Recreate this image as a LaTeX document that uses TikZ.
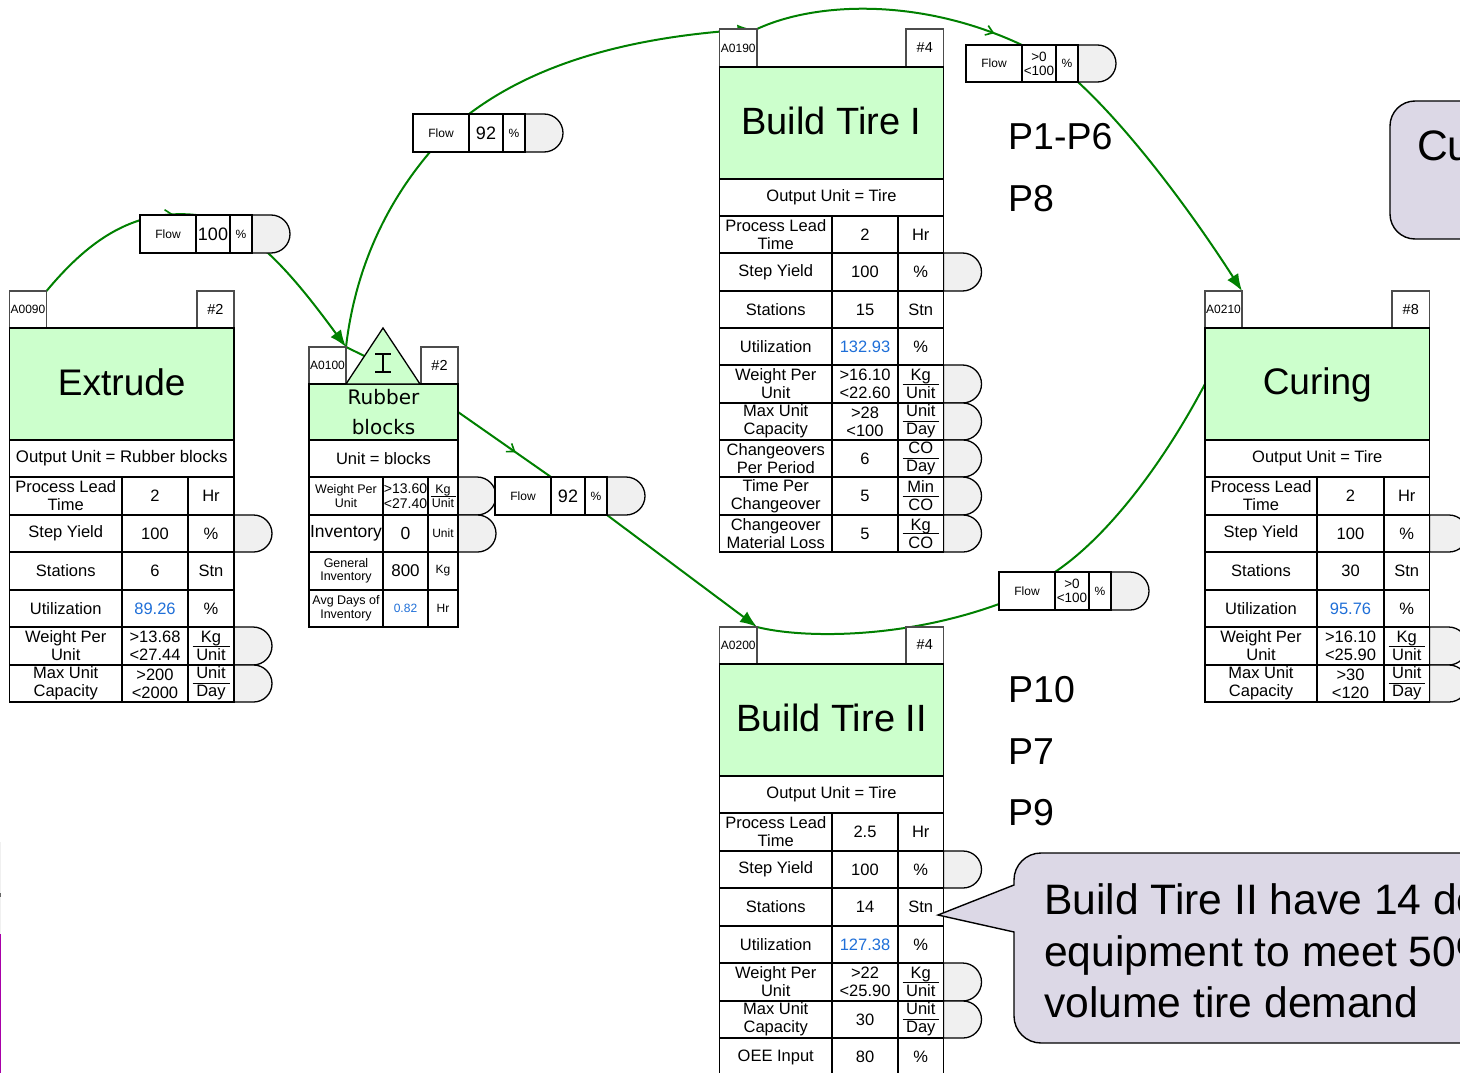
\documentclass[tikz,border=0pt]{standalone}
\usepackage{fontspec}
\setmainfont{Liberation Sans}
\newfontfamily\rubberfont{DejaVu Sans}
\usetikzlibrary{arrows.meta,decorations.markings,calc}
\definecolor{titlegreen}{RGB}{204,255,204}
\definecolor{pillgrey}{RGB}{240,240,240}
\definecolor{calloutfill}{RGB}{220,216,230}
\definecolor{linkgreen}{RGB}{0,128,0}
\definecolor{valblue}{RGB}{31,111,216}
\definecolor{edgemagenta}{RGB}{168,0,168}
\pgfdeclarelayer{bg}
\pgfsetlayers{bg,main}
\newcommand\fsz[2]{\fontsize{#1}{#2}\selectfont}
\tikzset{
  cell/.style={draw=black,line width=1.3pt,fill=white,inner sep=0pt,outer sep=0pt,align=center,text=black,font=\fsz{16.5}{18}},
  titlecell/.style={cell,fill=titlegreen},
  tabcell/.style={cell,draw=black!70,line width=1.1pt},
  pillshape/.style={draw=black,line width=1.3pt,fill=pillgrey},
  link/.style={draw=linkgreen,line width=2pt},
  linkhead/.style={link,-{Latex[length=17pt,width=13pt]}},
  midtip/.style={postaction={decorate,decoration={markings,mark=at position #1 with {\arrow[linkgreen,line width=1.6pt]{Straight Barb[length=7pt,width=10pt]}}}}},
  bigmidtip/.style={postaction={decorate,decoration={markings,mark=at position #1 with {\arrow[linkgreen]{Latex[length=15pt,width=11pt]}}}}},
  callout/.style={draw=black,line width=1.4pt,fill=calloutfill},
  bigtext/.style={anchor=base west,inner sep=0pt,font=\fsz{37.5}{37.5}},
  notetext/.style={anchor=base west,inner sep=0pt,font=\fsz{42.6}{42.6}},
}
\newcommand\titlestrut{\rule[-6pt]{0pt}{34pt}}
% box: [style]{name}{x0}{y0}{x1}{y1}{text}
\newcommand\bx[6][cell]{%
  \pgfmathsetmacro\bxw{#5-#3}\pgfmathsetmacro\bxh{#6-#4}%
  \pgfmathsetmacro\bxcx{(#3+#5)/2}\pgfmathsetmacro\bxcy{(#4+#6)/2}%
  \bxtext{#1}{#2}}
\newcommand\bxtext[3]{\node[#1,minimum width=\bxw pt,minimum height=\bxh pt] (#2) at (\bxcx,\bxcy) {#3};}
\newcommand\setcols[4]{\def\ca{#1}\def\cb{#2}\def\cc{#3}\def\cd{#4}}
\def\frinset{4.5pt}
% table row: {id}{y0}{y1}{label}{value}{unit}
\newcommand\trow[6]{%
  \bx{#1-l}{\ca}{#2}{\cb}{#3}{#4}%
  \bx{#1-v}{\cb}{#2}{\cc}{#3}{#5}%
  \bx{#1-u}{\cc}{#2}{\cd}{#3}{#6}}
% fraction rule under the numerator of a unit cell
\newcommand\frule[1]{\draw[line width=1pt] ([xshift=\frinset]#1-u.west) -- ([xshift=-\frinset]#1-u.east);}
% pill: {name}{x}{y0}{y1}
\newcommand\pill[4]{%
  \pgfmathsetmacro\pr{(#4-#3)/2}\pgfmathsetmacro\ps{38-\pr}\pgfmathsetmacro\pm{(#3+#4)/2}%
  \path[pillshape] (#2,#3) -- ++(\ps,0) arc[start angle=90,end angle=-90,radius=\pr pt] -- (#2,#4) -- cycle;
  \coordinate (#1) at (#2,\pm);}
% flow box: {id}{x}{y0}{y1}{value font}{value}
\newcommand\flowbox[6]{%
  \pgfmathsetmacro\fa{#2+56}\pgfmathsetmacro\fb{#2+90}\pgfmathsetmacro\fc{#2+112}%
  \pill{#1-pill}{\fc}{#3}{#4}%
  \bx[cell,font=\fsz{12}{14}]{#1-flow}{#2}{#3}{\fa}{#4}{Flow}%
  \bx[cell,font=#5]{#1-val}{\fa}{#3}{\fb}{#4}{#6}%
  \bx[cell,font=\fsz{12}{14}]{#1-pct}{\fb}{#3}{\fc}{#4}{\%}}
\newcommand\tabs[7]{% id y0 y1 ax1 nx0 code no
  \bx[tabcell,font=\fsz{12}{14}]{#1-code}{\ca}{#2}{#4}{#3}{\raisebox{-1pt}{#6}}%
  \bx[tabcell,font=\fsz{14.5}{16}]{#1-no}{#5}{#2}{\cd}{#3}{\raisebox{1pt}{#7}}}
\newcommand\blue[1]{\textcolor{valblue}{#1}}
\begin{document}
\begin{tikzpicture}[x=1pt,y=-1pt]
\useasboundingbox (0,0) rectangle (1460,1073);
\clip (0,0) rectangle (1460,1073);
% page-edge marks
\fill[pillgrey] (0,842) rectangle (1,934);
\fill[black!60] (0,893) rectangle (1,897);
\fill[edgemagenta] (0,934) rectangle (1.2,1073);

% ---------- Extrude
\setcols{9.5}{122}{188}{234}
\tabs{ext}{291}{328}{46.5}{197}{A0090}{\#2}
\bx[titlecell,font=\fsz{37}{37}]{ext-title}{9.5}{328}{234}{440}{Extrude\titlestrut}
\bx[cell,font=\fsz{16.8}{18}]{ext-out}{9.5}{440}{234}{477}{Output Unit = Rubber blocks}
\pill{ext-p2}{234}{515}{552}\pill{ext-p5}{234}{627}{665}\pill{ext-p6}{234}{665}{702}
\trow{ext-r1}{477}{515}{Process Lead\\Time}{2}{Hr}
\trow{ext-r2}{515}{552}{Step Yield}{100}{\%}
\trow{ext-r3}{552}{590}{Stations}{6}{Stn}
\trow{ext-r4}{590}{627}{Utilization}{\blue{89.26}}{\%}
\trow{ext-r5}{627}{665}{Weight Per\\Unit}{>13.68\\<27.44}{Kg\\Unit}\frule{ext-r5}
\trow{ext-r6}{665}{702}{Max Unit\\Capacity}{>200\\<2000}{Unit\\Day}\frule{ext-r6}

% ---------- Rubber blocks
\setcols{309}{383}{428}{458}
\tabs{rub}{347}{384}{346}{421}{A0100}{\#2}
\bx[titlecell,font=\rubberfont\fsz{20}{29.5}]{rub-title}{309}{384}{458}{440}{Rubber\\blocks}
\bx[cell,font=\fsz{16.5}{18}]{rub-out}{309}{440}{458}{477}{Unit = blocks}
\pill{rub-p1}{458}{477}{515}\pill{rub-p2}{458}{515}{552}
\def\frinset{2.5pt}
\bx[cell,font=\fsz{12.5}{14}]{rub-r1-l}{309}{477}{383}{515}{Weight Per\\Unit}
\bx[cell,font=\fsz{14}{14.5}]{rub-r1-v}{383}{477}{428}{515}{>13.60\\<27.40}
\bx[cell,font=\fsz{12.5}{14}]{rub-r1-u}{428}{477}{458}{515}{Kg\\Unit}
\frule{rub-r1}
\bx[cell,font=\fsz{17.5}{20}]{rub-r2-l}{309}{515}{383}{552}{Inventory}
\bx[cell,font=\fsz{17.5}{20}]{rub-r2-v}{383}{515}{428}{552}{0}
\bx[cell,font=\fsz{12}{14}]{rub-r2-u}{428}{515}{458}{552}{Unit}
\bx[cell,font=\fsz{12.5}{13.5}]{rub-r3-l}{309}{552}{383}{590}{General\\Inventory}
\bx[cell,font=\fsz{17}{20}]{rub-r3-v}{383}{552}{428}{590}{800}
\bx[cell,font=\fsz{12}{14}]{rub-r3-u}{428}{552}{458}{590}{Kg}
\bx[cell,font=\fsz{12.5}{14}]{rub-r4-l}{309}{590}{383}{627}{Avg Days of\\Inventory}
\bx[cell,font=\fsz{12}{14}]{rub-r4-v}{383}{590}{428}{627}{\blue{0.82}}
\bx[cell,font=\fsz{12}{14}]{rub-r4-u}{428}{590}{458}{627}{Hr}
\def\frinset{4.5pt}
\path[draw=black,line width=1.3pt,fill=titlegreen] (346,384) -- (383,328) -- (420,384) -- cycle;
\coordinate (rub-tri) at (383,365);
\draw[line width=1.1pt] (375,354) -- (391,354) (383,354) -- (383,372) (375,372) -- (391,372);

% ---------- Build Tire I
\setcols{719.5}{832}{898}{943.5}
\tabs{bt1}{29}{67}{757}{906}{A0190}{\#4}
\bx[titlecell,font=\fsz{38}{38}]{bt1-title}{719.5}{67}{943.5}{179}{Build Tire I\titlestrut}
\bx{bt1-out}{719.5}{179}{943.5}{216}{Output Unit = Tire}
\pill{bt1-p2}{943.5}{253}{291}\pill{bt1-p5}{943.5}{365}{403}\pill{bt1-p6}{943.5}{403}{440}
\pill{bt1-p7}{943.5}{440}{477}\pill{bt1-p8}{943.5}{477}{515}\pill{bt1-p9}{943.5}{515}{552}
\trow{bt1-r1}{216}{253}{Process Lead\\Time}{2}{Hr}
\trow{bt1-r2}{253}{291}{Step Yield}{100}{\%}
\trow{bt1-r3}{291}{328}{Stations}{15}{Stn}
\trow{bt1-r4}{328}{365}{Utilization}{\blue{132.93}}{\%}
\trow{bt1-r5}{365}{403}{Weight Per\\Unit}{>16.10\\<22.60}{Kg\\Unit}\frule{bt1-r5}
\trow{bt1-r6}{403}{440}{Max Unit\\Capacity}{>28\\<100}{Unit\\Day}\frule{bt1-r6}
\trow{bt1-r7}{440}{477}{Changeovers\\Per Period}{6}{CO\\Day}\frule{bt1-r7}
\trow{bt1-r8}{477}{515}{Time Per\\Changeover}{5}{Min\\CO}\frule{bt1-r8}
\trow{bt1-r9}{515}{552}{Changeover\\Material Loss}{5}{Kg\\CO}\frule{bt1-r9}

% ---------- Build Tire II
\tabs{bt2}{627}{664}{757}{906}{A0200}{\#4}
\bx[titlecell,font=\fsz{38}{38}]{bt2-title}{719.5}{664}{943.5}{776}{Build Tire II\titlestrut}
\bx{bt2-out}{719.5}{776}{943.5}{813}{Output Unit = Tire}
\pill{bt2-p2}{943.5}{851}{888}\pill{bt2-p5}{943.5}{963}{1001}\pill{bt2-p6}{943.5}{1001}{1038}
\trow{bt2-r1}{813}{851}{Process Lead\\Time}{2.5}{Hr}
\trow{bt2-r2}{851}{888}{Step Yield}{100}{\%}
\trow{bt2-r3}{888}{926}{Stations}{14}{Stn}
\trow{bt2-r4}{926}{963}{Utilization}{\blue{127.38}}{\%}
\trow{bt2-r5}{963}{1001}{Weight Per\\Unit}{>22\\<25.90}{Kg\\Unit}\frule{bt2-r5}
\trow{bt2-r6}{1001}{1038}{Max Unit\\Capacity}{30}{Unit\\Day}\frule{bt2-r6}
\trow{bt2-r7}{1038}{1076}{OEE Input}{80}{\%}

% ---------- Curing
\setcols{1205}{1317}{1384}{1429.5}
\tabs{cur}{291}{328}{1242}{1392}{A0210}{\#8}
\bx[titlecell,font=\fsz{37}{37}]{cur-title}{1205}{328}{1429.5}{440}{Curing\titlestrut}
\bx{cur-out}{1205}{440}{1429.5}{477}{Output Unit = Tire}
\pill{cur-p2}{1429.5}{515}{552}\pill{cur-p5}{1429.5}{627}{665}\pill{cur-p6}{1429.5}{665}{702}
\trow{cur-r1}{477}{515}{Process Lead\\Time}{2}{Hr}
\trow{cur-r2}{515}{552}{Step Yield}{100}{\%}
\trow{cur-r3}{552}{590}{Stations}{30}{Stn}
\trow{cur-r4}{590}{627}{Utilization}{\blue{95.76}}{\%}
\trow{cur-r5}{627}{665}{Weight Per\\Unit}{>16.10\\<25.90}{Kg\\Unit}\frule{cur-r5}
\trow{cur-r6}{665}{702}{Max Unit\\Capacity}{>30\\<120}{Unit\\Day}\frule{cur-r6}

% ---------- Flow boxes
\flowbox{f1}{140}{215}{253}{\fsz{18}{20}}{100}
\flowbox{f2}{413}{114}{152}{\fsz{18}{20}}{92}
\flowbox{f3}{966}{45}{82}{\fsz{13.5}{14}}{>0\\<100}
\flowbox{f4}{495}{477}{515}{\fsz{18}{20}}{92}
\flowbox{f5}{999}{572}{610}{\fsz{13.5}{14}}{>0\\<100}

% ---------- Connectors (behind the boxes)
\begin{pgfonlayer}{bg}
\path[link,midtip=0.87] (ext-code.north east) .. controls (85,245) and (130,208) .. (f1-flow.north east);
\path[link] (f1-flow.north east) -- ([xshift=16pt]f1-pct.south east);
\path[linkhead] ([xshift=16pt]f1-pct.south east) .. controls (295,278) and (320,312) .. (rub-code.north east);
\path[link] (rub-code.north east) -- (rub-tri);
\path[link] (rub-code.north east) .. controls (355,270) and (385,205) .. ([xshift=17pt]f2-flow.south west) -- (f2-flow.north east);
\path[link,bigmidtip=0.985] (f2-flow.north east) .. controls (530,68) and (620,36) .. (bt1-code.north east);
\path[link,midtip=0.89] (bt1-code.north east) .. controls (815,2) and (920,-3) .. (f3-flow.north east);
\path[link] (f3-flow.north east) -- (f3-pct.south east);
\path[linkhead] (f3-pct.south east) .. controls (1130,130) and (1190,210) .. (cur-code.north east);
\path[link,midtip=0.62] (rub-title.east) -- (f4-flow.north east);
\path[link] (f4-flow.north east) -- (f4-pct.south east);
\path[linkhead] (f4-pct.south east) -- (bt2-code.north east);
\path[link] (bt2-code.north east) .. controls (800,638) and (900,640) .. ([yshift=6pt]f5-flow.south west) -- (f5-flow.north east);
\path[link] (f5-flow.north east) .. controls (1110,535) and (1165,460) .. (cur-title.west);
\end{pgfonlayer}

% ---------- Side labels
\node[bigtext] (lab-p1) at (1008,149) {P1-P6};
\node[bigtext] (lab-p8) at (1008,211) {P8};
\node[bigtext] (lab-p10) at (1008,702) {P10};
\node[bigtext] (lab-p7) at (1008,764) {P7};
\node[bigtext] (lab-p9) at (1008,825) {P9};

% ---------- Callouts
\path[callout] (1390,126) arc[start angle=180,end angle=90,radius=25pt] -- (1560,101) -- (1560,239) -- (1415,239) arc[start angle=270,end angle=180,radius=25pt] -- cycle;
\node[notetext] (note-cu) at (1417,160) {Cu};
\path[callout] (938,915) -- (1014,885) -- (1014,880) arc[start angle=180,end angle=90,radius=27pt] -- (1560,853) -- (1560,1043) -- (1041,1043) arc[start angle=270,end angle=180,radius=27pt] -- (1014,932) -- cycle;
\node[notetext] (note-a) at (1044,914) {Build Tire II have 14 de};
\node[notetext] (note-b) at (1044,966) {equipment to meet 50\%};
\node[notetext] (note-c) at (1044,1017) {volume tire demand};
\end{tikzpicture}
\end{document}
